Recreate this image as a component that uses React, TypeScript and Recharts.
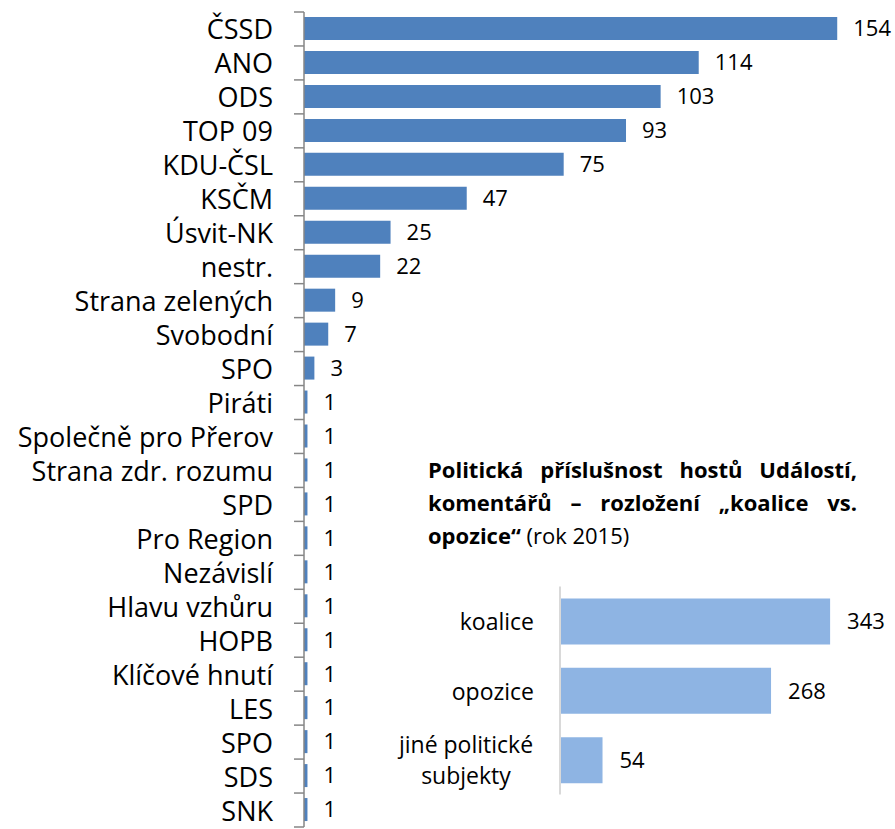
import React from 'react';
import { BarChart, Bar, XAxis, YAxis, LabelList } from 'recharts';

const parties = [
  'ČSSD', 'ANO', 'ODS', 'TOP 09', 'KDU-ČSL', 'KSČM', 'Úsvit-NK', 'nestr.',
  'Strana zelených', 'Svobodní', 'SPO', 'Piráti', 'Společně pro Přerov',
  'Strana zdr. rozumu', 'SPD', 'Pro Region', 'Nezávislí', 'Hlavu vzhůru',
  'HOPB', 'Klíčové hnutí', 'LES', 'SPO', 'SDS', 'SNK',
];
const guestCounts = [154, 114, 103, 93, 75, 47, 25, 22, 9, 7, 3, 1, 1, 1, 1, 1, 1, 1, 1, 1, 1, 1, 1, 1];

const blocs = ['koalice', 'opozice', 'jiné politické\nsubjekty'];
const blocCounts = [343, 268, 54];

const FONT = '"Open Sans", sans-serif';
const W = 895;
const H = 829;

// main chart layout
const MAIN_TOP = 12;
const MAIN_BOTTOM = 2;
const AXIS_W = 304;
const BAND = (H - MAIN_TOP - MAIN_BOTTOM) / parties.length;

const mainData = parties.map((name, i) => ({ id: String(i), name, value: guestCounts[i] }));
const blocData = blocs.map((name, i) => ({ id: String(i), name, value: blocCounts[i] }));

const PartyTick = (props: any) => {
  const { y, payload } = props;
  const i = Number(payload.value);
  const last = i === parties.length - 1;
  return (
    <g>
      <line x1={AXIS_W - 10} x2={AXIS_W} y1={y - BAND / 2} y2={y - BAND / 2} stroke="#868686" strokeWidth={1.5} />
      {last && <line x1={AXIS_W - 10} x2={AXIS_W} y1={y + BAND / 2} y2={y + BAND / 2} stroke="#868686" strokeWidth={1.5} />}
      <text x={AXIS_W - 31} y={y} textAnchor="end" dominantBaseline="central" fontFamily={FONT} fontSize={27} fill="#000">
        {parties[i]}
      </text>
    </g>
  );
};

const BlocTick = (props: any) => {
  const { x, y, payload } = props;
  const lines = blocs[Number(payload.value)].split('\n');
  if (lines.length === 1) {
    return (
      <text x={x} y={y} textAnchor="end" dominantBaseline="central" fontFamily={FONT} fontSize={23} fill="#000">
        {lines[0]}
      </text>
    );
  }
  return (
    <text x={x - 68} y={y} textAnchor="middle" fontFamily={FONT} fontSize={23} fill="#000">
      {lines.map((l, k) => (
        <tspan key={k} x={x - 68} y={y + (k - (lines.length - 1) / 2) * 31} dominantBaseline="central">{l}</tspan>
      ))}
    </text>
  );
};

export default function App() {
  return (
    <div style={{ position: 'absolute', left: 0, top: 0, width: W, height: H, background: '#fff', overflow: 'hidden' }}>
      <BarChart
        width={W}
        height={H}
        layout="vertical"
        data={mainData}
        margin={{ top: MAIN_TOP, right: 37, bottom: MAIN_BOTTOM, left: 0 }}
        barSize={23}
      >
        <XAxis type="number" hide domain={[0, 160]} />
        <YAxis
          type="category"
          dataKey="id"
          width={AXIS_W}
          interval={0}
          axisLine={{ stroke: '#868686', strokeWidth: 1.5 }}
          tickLine={false}
          tick={<PartyTick />}
        />
        <Bar dataKey="value" fill="#4F81BD" isAnimationActive={false}>
          <LabelList dataKey="value" position="right" offset={16} fill="#000" fontSize={22} fontFamily={FONT} />
        </Bar>
      </BarChart>

      <div
        style={{
          position: 'absolute',
          left: 428,
          top: 453,
          width: 429,
          fontFamily: FONT,
          fontSize: 22,
          lineHeight: '33px',
          color: '#000',
        }}
      >
        <div style={{ fontWeight: 700, textAlign: 'justify', textAlignLast: 'justify' }}>Politická příslušnost hostů Událostí,</div>
        <div style={{ fontWeight: 700, textAlign: 'justify', textAlignLast: 'justify' }}>komentářů – rozložení „koalice vs.</div>
        <div><b>opozice“</b> (rok 2015)</div>
      </div>

      <div style={{ position: 'absolute', left: 380, top: 570 }}>
        <BarChart
          width={515}
          height={240}
          layout="vertical"
          data={blocData}
          margin={{ top: 16.5, right: 20, bottom: 15.5, left: 0 }}
          barSize={46}
        >
          <XAxis type="number" hide domain={[0, 400]} />
          <YAxis
            type="category"
            dataKey="id"
            width={180}
            interval={0}
            axisLine={{ stroke: '#D9D9D9', strokeWidth: 2 }}
            tickLine={false}
            tickSize={0}
            tickMargin={26}
            tick={<BlocTick />}
          />
          <Bar dataKey="value" fill="#8EB4E3" isAnimationActive={false}>
            <LabelList dataKey="value" position="right" offset={17} fill="#000" fontSize={22} fontFamily={FONT} />
          </Bar>
        </BarChart>
      </div>
    </div>
  );
}
